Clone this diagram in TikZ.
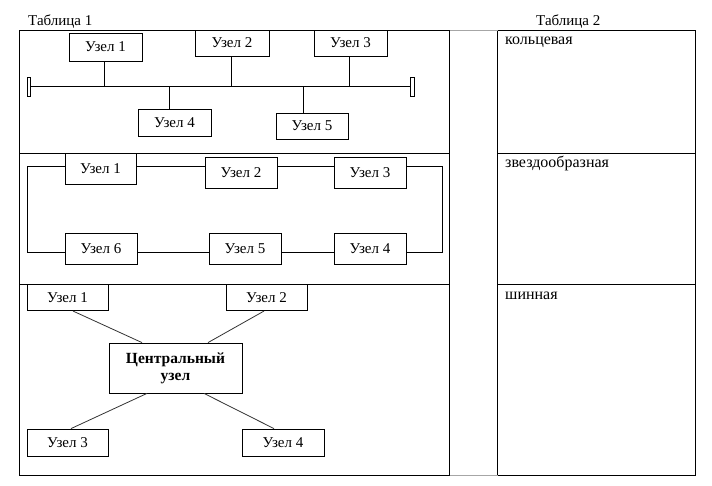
\documentclass[tikz,border=0pt]{standalone}
\usepackage{fontspec}
\setmainfont{Liberation Serif}
\tikzset{
  every picture/.style={x=1pt,y=-1pt},
  nb/.style 2 args={draw, line width=0.8pt, minimum width=#1 pt, minimum height=#2 pt, inner sep=0pt, font=\fontsize{15}{17}\selectfont},
  capbox/.style 2 args={draw, line width=0.8pt, minimum width=#1 pt, minimum height=#2 pt, inner sep=0pt},
  lbl/.style={anchor=base west, inner sep=0pt, font=\fontsize{15}{17}\selectfont},
  lbl2/.style={anchor=base west, inner sep=0pt, font=\fontsize{16}{18}\selectfont},
  tline/.style={line width=0.9pt},
  conn/.style={line width=0.8pt},
  sconn/.style={line width=0.8pt, black!80},
  gline/.style={line width=0.9pt, black!35}
}
\begin{document}
\begin{tikzpicture}
\useasboundingbox (0,0) rectangle (712,486);
% tables
\draw[tline] (19.5,30) rectangle (449.5,475);
\draw[tline] (19.5,153) -- (449.5,153);
\draw[tline] (19.5,284) -- (449.5,284);
\draw[tline] (497.5,30) rectangle (695.5,475);
\draw[tline] (497.5,153) -- (695.5,153);
\draw[tline] (497.5,284) -- (695.5,284);
\draw[gline] (449.5,30) -- (497.5,30);
\draw[gline] (449.5,475) -- (497.5,475);
\node[lbl] (t1) at (28,26) {Таблица 1};
\node[lbl] (t2) at (536,26) {Таблица 2};
\node[lbl2] (k) at (505,45) {кольцевая};
\node[lbl2] (z) at (505,168) {звездообразная};
\node[lbl2] (sh) at (505,299) {шинная};
% bus
\node[nb={73}{28}] (b1) at (105.5,47) {Узел 1};
\node[nb={74}{26}] (b2) at (232,43) {Узел 2};
\node[nb={73}{26}] (b3) at (350.5,43) {Узел 3};
\node[nb={73}{27}] (b4) at (174.5,122.5) {Узел 4};
\node[nb={72}{26}] (b5) at (312,126) {Узел 5};
\node[capbox={3}{19}] (capL) at (29.2,86.5) {};
\node[capbox={4}{19}] (capR) at (412,86.5) {};
\draw[conn] (capL.east) -- (capR.west);
\draw[conn] ([xshift=-1.5pt]b1.south) -- ([xshift=-1.5pt]b1.south |- capL.east);
\draw[conn] ([xshift=-1pt]b2.south) -- ([xshift=-1pt]b2.south |- capL.east);
\draw[conn] ([xshift=-1.5pt]b3.south) -- ([xshift=-1.5pt]b3.south |- capL.east);
\draw[conn] ([xshift=-5.5pt]b4.north) -- ([xshift=-5.5pt]b4.north |- capL.east);
\draw[conn] ([xshift=-9pt]b5.north) -- ([xshift=-9pt]b5.north |- capL.east);
% ring
\node[nb={71}{31}] (r1) at (100.5,168.5) {Узел 1};
\node[nb={72}{31}] (r2) at (241,172.5) {Узел 2};
\node[nb={72}{31}] (r3) at (370,172.5) {Узел 3};
\node[nb={72}{31}] (r6) at (101,248.5) {Узел 6};
\node[nb={72}{31}] (r5) at (245,248.5) {Узел 5};
\node[nb={72}{31}] (r4) at (370,248.5) {Узел 4};
\coordinate (tl) at (27,166);
\coordinate (tr) at (442,166);
\coordinate (bl) at (27,252);
\coordinate (br) at (442,252);
\draw[conn] (r1.west |- tl) -- (tl) -- (bl) -- (r6.west |- bl);
\draw[conn] (r1.east |- tl) -- (r2.west |- tl);
\draw[conn] (r2.east |- tl) -- (r3.west |- tl);
\draw[conn] (r3.east |- tl) -- (tr) -- (br) -- (r4.east |- br);
\draw[conn] (r6.east |- bl) -- (r5.west |- bl);
\draw[conn] (r5.east |- bl) -- (r4.west |- bl);
% star
\node[nb={81}{26.7}] (s1) at (67.5,297.3) {Узел 1};
\node[nb={81}{26.7}] (s2) at (266.5,297.3) {Узел 2};
\node[nb={81}{27}] (s3) at (67.5,442.5) {Узел 3};
\node[nb={82}{27}] (s4) at (283,442.5) {Узел 4};
\node[nb={133}{50}, font=\fontsize{15.5}{17}\selectfont\bfseries, align=center] (c) at (175.5,368) {Центральный\\узел};
\draw[sconn] ([xshift=5.5pt]s1.south) -- ([xshift=-33.5pt]c.north);
\draw[sconn] ([xshift=-2.5pt]s2.south) -- ([xshift=32.5pt]c.north);
\draw[sconn] ([xshift=-28.5pt]c.south) -- ([xshift=3.5pt]s3.north);
\draw[sconn] ([xshift=28.5pt]c.south) -- ([xshift=-9pt]s4.north);
\end{tikzpicture}
\end{document}
